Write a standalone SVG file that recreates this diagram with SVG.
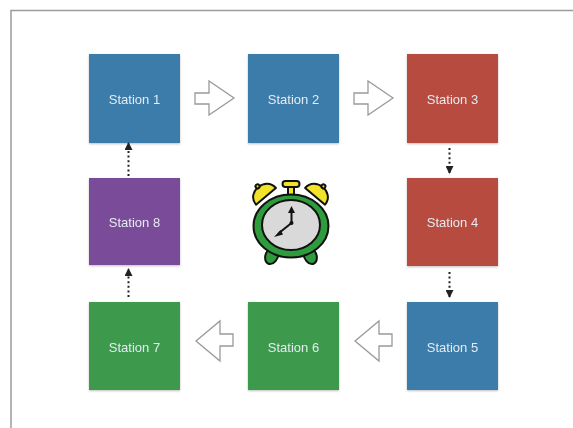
<svg xmlns="http://www.w3.org/2000/svg" width="573" height="428" viewBox="0 0 573 428">
  <style>
    .box { stroke: none; }
    .blue { fill: #3b7cab; }
    .red { fill: #b84c40; }
    .purple { fill: #7a4c98; }
    .green { fill: #3c9a4e; }
    .label { font-family: "Liberation Sans", Arial, sans-serif; font-size: 13px; fill: #e4ebf1; text-anchor: middle; }
    .hollow { fill: #ffffff; stroke: #9a9a9a; stroke-width: 1.3; stroke-linejoin: miter; }
    .dots { stroke: #222222; stroke-width: 2; stroke-dasharray: 2 2.6; fill: none; }
    .ink { stroke: #111111; stroke-width: 2; stroke-linejoin: round; }
  </style>
  <defs>
    <filter id="shadow" x="-10%" y="-10%" width="120%" height="125%">
      <feDropShadow dx="0" dy="1" stdDeviation="0.8" flood-color="#000000" flood-opacity="0.25"/>
    </filter>
    <marker id="tip" viewBox="0 0 8 8" refX="7" refY="4" markerWidth="8" markerHeight="8" markerUnits="userSpaceOnUse" orient="auto">
      <path d="M0,0 L8,4 L0,8 Z" fill="#222222"/>
    </marker>
  </defs>

  <rect width="573" height="428" fill="#ffffff"/>
  <!-- page frame -->
  <path d="M11,428 L11,10.5 L573,10.5" fill="none" stroke="#9c9c9c" stroke-width="1.5"/>

  <!-- stations -->
  <g id="station1" filter="url(#shadow)">
    <rect class="box blue" x="89" y="54" width="91" height="89"/>
    <text class="label" x="134.5" y="103.5">Station 1</text>
  </g>
  <g id="station2" filter="url(#shadow)">
    <rect class="box blue" x="248" y="54" width="91" height="89"/>
    <text class="label" x="293.5" y="103.5">Station 2</text>
  </g>
  <g id="station3" filter="url(#shadow)">
    <rect class="box red" x="407" y="54" width="91" height="89"/>
    <text class="label" x="452.5" y="103.5">Station 3</text>
  </g>
  <g id="station4" filter="url(#shadow)">
    <rect class="box red" x="407" y="178" width="91" height="88"/>
    <text class="label" x="452.5" y="227">Station 4</text>
  </g>
  <g id="station5" filter="url(#shadow)">
    <rect class="box blue" x="407" y="302" width="91" height="88"/>
    <text class="label" x="452.5" y="351.5">Station 5</text>
  </g>
  <g id="station6" filter="url(#shadow)">
    <rect class="box green" x="248" y="302" width="91" height="88"/>
    <text class="label" x="293.5" y="351.5">Station 6</text>
  </g>
  <g id="station7" filter="url(#shadow)">
    <rect class="box green" x="89" y="302" width="91" height="88"/>
    <text class="label" x="134.5" y="351.5">Station 7</text>
  </g>
  <g id="station8" filter="url(#shadow)">
    <rect class="box purple" x="89" y="178" width="91" height="87"/>
    <text class="label" x="134.5" y="227">Station 8</text>
  </g>

  <!-- connectors -->
  <g id="connectors">
    <!-- hollow block arrows -->
    <path class="hollow" d="M195,93 L209,93 L209,81 L234,98 L209,115 L209,104 L195,104 Z"/>
    <path class="hollow" d="M354,93 L368,93 L368,81 L393,98 L368,115 L368,104 L354,104 Z"/>
    <path class="hollow" d="M392,334 L379,334 L379,321 L355,341 L379,361 L379,346 L392,346 Z"/>
    <path class="hollow" d="M233,334 L220,334 L220,321 L196,341 L220,361 L220,346 L233,346 Z"/>
    <!-- dotted arrows -->
    <line class="dots" x1="449.5" y1="148" x2="449.5" y2="173" marker-end="url(#tip)"/>
    <line class="dots" x1="449.5" y1="272" x2="449.5" y2="297" marker-end="url(#tip)"/>
    <line class="dots" x1="128.5" y1="297" x2="128.5" y2="269" marker-end="url(#tip)"/>
    <line class="dots" x1="128.5" y1="176" x2="128.5" y2="143" marker-end="url(#tip)"/>
  </g>

  <!-- alarm clock -->
  <g id="clock">
    <!-- feet -->
    <path d="M268,250 C264,255 264,262 269,264 C274,265 278,259 279,253 Z" fill="#2e9b3c" class="ink"/>
    <path d="M314,250 C318,255 318,262 313,264 C308,265 304,259 303,253 Z" fill="#2e9b3c" class="ink"/>
    <!-- bells -->
    <g transform="translate(264 194) rotate(-40)">
      <path d="M-13,3 C-13,-13 13,-13 13,3 Z" fill="#f2e22a" class="ink"/>
      <circle cx="0" cy="-10" r="2" fill="#f2e22a" class="ink" stroke-width="1.5"/>
    </g>
    <g transform="translate(317 194) rotate(40)">
      <path d="M-13,3 C-13,-13 13,-13 13,3 Z" fill="#f2e22a" class="ink"/>
      <circle cx="0" cy="-10" r="2" fill="#f2e22a" class="ink" stroke-width="1.5"/>
    </g>
    <!-- winding knob -->
    <path d="M288,187 L294,187 L294,197 L288,197 Z" fill="#f2e22a" class="ink"/>
    <rect x="282.5" y="181" width="17" height="6" rx="3" fill="#f2e22a" class="ink"/>
    <!-- body and face -->
    <ellipse cx="291" cy="226" rx="37.5" ry="31.5" fill="#2e9b3c" class="ink" stroke-width="2.2"/>
    <ellipse cx="291" cy="225" rx="29" ry="25" fill="#d9d9d9" class="ink" stroke-width="1.8"/>
    <!-- hands -->
    <path d="M291.5,223 L291.5,211" class="ink" stroke-width="2.5" fill="none"/>
    <path d="M288,213 L291.5,206 L295,213 Z" fill="#111111"/>
    <path d="M291.5,223 L279,233" class="ink" stroke-width="2.5" fill="none"/>
    <path d="M280.5,230 L274,237 L283,234.5 Z" fill="#111111"/>
    <circle cx="291.5" cy="223" r="2" fill="#111111"/>
  </g>
</svg>
